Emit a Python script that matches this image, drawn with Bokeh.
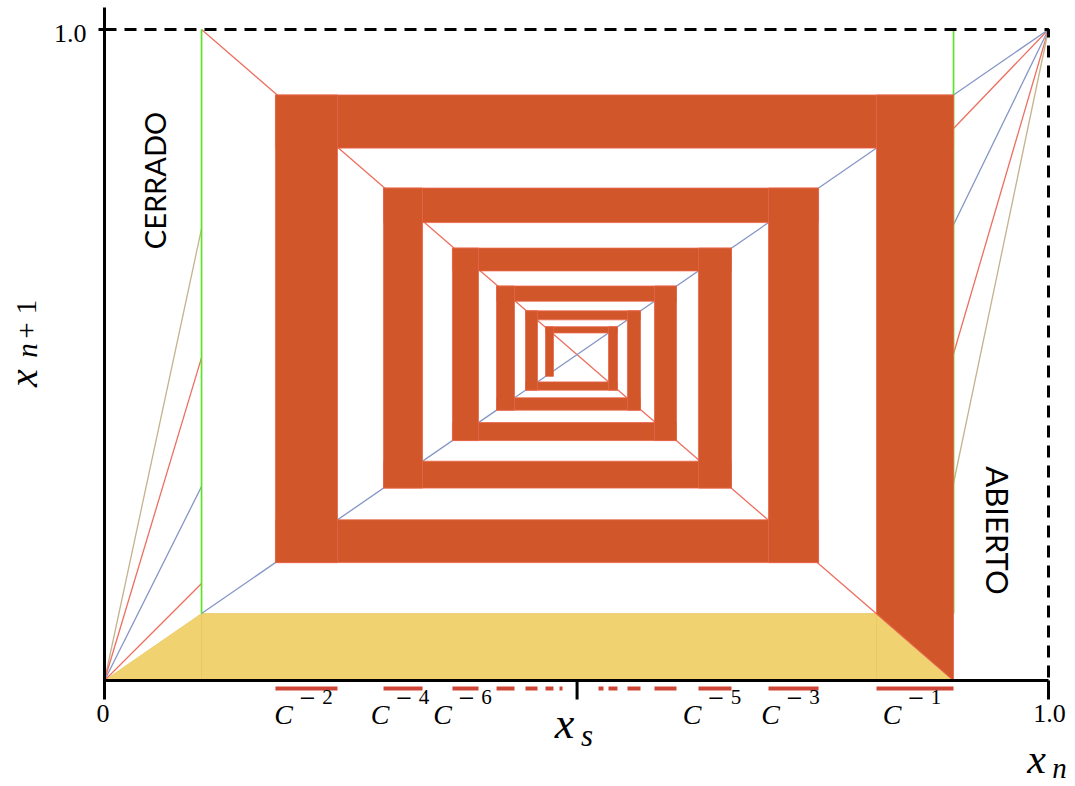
import math
from bokeh.plotting import figure
from bokeh.models import Range1d, ColumnDataSource
from bokeh.core.properties import value
from bokeh.embed import file_html
from bokeh.resources import INLINE

# ---------------- data ----------------
preimage_k = [1, 2, 3, 4, 5, 6, 7, 8, 9, 10, 11, 12, 13, 14]
preimage_left = [0.8178, 0.1811, 0.7034, 0.2956, 0.6292, 0.3686, 0.5826,
                 0.4153, 0.5540, 0.4460, 0.5339, 0.4672, 0.5233, 0.4820]
preimage_right = [0.8994, 0.2468, 0.7564, 0.3369, 0.6642, 0.3962, 0.6059,
                  0.4343, 0.5678, 0.4587, 0.5434, 0.4756, 0.5286, 0.4852]
labelled_k = [1, 2, 3, 4, 5, 6]
cobweb_columns = 12
gap_point = 0.1028          # x of the left (green) line
x_s = 0.5006                # fixed point between the two branches
left_branch_heights = [0.694, 0.496, 0.298, 0.149]
right_branch_heights = [0.848, 0.700, 0.502, 0.303]
x_tick_values = [0.0, 1.0]
x_tick_labels = ["0", "1.0"]
y_tick_values = [1.0]
y_tick_labels = ["1.0"]

# ---------------- styles ----------------
RED = "#ec6f60"
BLUE = "#8596c6"
TAN = "#c5b28e"
GREEN = "#5ee228"
ORANGE = "#d15629"
ORANGE_EDGE = "#e8654a"
YELLOW = "#f0d370"
YELLOW_EDGE = "#e9c45c"
DASH_RED = "#cf4535"
left_branch_colors = [TAN, RED, BLUE, RED]
right_branch_colors = [RED, BLUE, RED, TAN]

W, H = 1075, 786
PX_PER_X = 944.0   # screen pixels per unit of x_n
PX_PER_Y = 651.0   # screen pixels per unit of x_{n+1}
ORIGIN = (104, 680)
X_RANGE = (-ORIGIN[0] / PX_PER_X, (W - ORIGIN[0]) / PX_PER_X)
Y_RANGE = (-(H - ORIGIN[1]) / PX_PER_Y, ORIGIN[1] / PX_PER_Y)


def dx(n):
    return n / PX_PER_X


def dy(n):
    return n / PX_PER_Y


SERIF = value("Liberation Serif")
TXT = dict(text_align="center", text_baseline="middle", text_color="black")

p = figure(width=W, height=H, x_range=Range1d(*X_RANGE), y_range=Range1d(*Y_RANGE),
           output_backend="svg", toolbar_location=None, x_axis_type=None, y_axis_type=None,
           min_border=0, outline_line_color=None)
p.grid.visible = False
p.background_fill_color = "white"
p.border_fill_color = "white"

a = preimage_left
b = preimage_right
c = gap_point
b1 = b[0]

# ---- yellow region ----
p.patches(xs=[[0, c, c], [c, c, a[0], a[0]], [a[0], a[0], b1]],
          ys=[[0, c, 0], [0, c, c, 0], [c, 0, 0]],
          fill_color=YELLOW, line_color=YELLOW_EDGE, line_width=1, line_alpha=0.7)

# ---- branch fans ----
p.segment(x0=[0] * len(left_branch_heights), y0=[0] * len(left_branch_heights),
          x1=[c] * len(left_branch_heights), y1=left_branch_heights,
          line_color=left_branch_colors, line_width=1.3)
p.segment(x0=[b1] * len(right_branch_heights), y0=right_branch_heights,
          x1=[1] * len(right_branch_heights), y1=[1] * len(right_branch_heights),
          line_color=right_branch_colors, line_width=1.3)
# decreasing graph and diagonal
p.line([c, b1], [1, 0], line_color=RED, line_width=1.3)
p.line([c, 1], [c, 1], line_color=BLUE, line_width=1.3)
# green discontinuity lines
p.segment(x0=[c, b1], y0=[1, 1], x1=[c, b1], y1=[c, c], line_color=GREEN, line_width=1.7)

# ---- cobweb bands (horizontal) ----
band = dict(left=[], right=[], bottom=[], top=[])
for k in range(cobweb_columns - 1):
    band["left"].append(min(a[k], a[k + 1]))
    band["right"].append(max(b[k], b[k + 1]))
    band["bottom"].append(a[k])
    band["top"].append(b[k])
p.quad(source=ColumnDataSource(band), left="left", right="right", bottom="bottom", top="top",
       fill_color=ORANGE, line_color=ORANGE_EDGE, line_width=1, line_alpha=0.8)

# ---- cobweb columns (vertical) ----
col = dict(left=[], right=[], bottom=[], top=[])
for k in range(1, cobweb_columns):
    col["left"].append(a[k])
    col["right"].append(b[k])
    col["bottom"].append(min(a[k - 1], a[k]))
    col["top"].append(max(b[k - 1], b[k]))
p.quad(source=ColumnDataSource(col), left="left", right="right", bottom="bottom", top="top",
       fill_color=ORANGE, line_color=ORANGE_EDGE, line_width=1, line_alpha=0.8)
p.patch([a[0], a[0], b1, b1], [c, b1, b1, 0], fill_color=ORANGE,
        line_color=ORANGE_EDGE, line_width=1, line_alpha=0.8)

# ---- preimage intervals under the axis ----
dash_y = -dy(8)
p.segment(x0=a, y0=[dash_y] * len(a), x1=b, y1=[dash_y] * len(b),
          line_color=DASH_RED, line_width=4, line_cap="butt")

# ---- axes ----
p.line([0, 0], [-dy(19), 1 + dy(22)], line_color="black", line_width=3)
p.line([0, 1], [0, 0], line_color="black", line_width=3)
p.segment(x0=[1, x_s], y0=[0, 0], x1=[1, x_s], y1=[-dy(19), -dy(19)],
          line_color="black", line_width=3, line_cap="butt")
p.segment(x0=[-dx(6)] * len(y_tick_values), y0=y_tick_values, x1=[0] * len(y_tick_values),
          y1=y_tick_values, line_color="black", line_width=3, line_cap="butt")
p.line([0, 1, 1], [1, 1, 0], line_color="black", line_width=3, line_dash="12 8")

# tick labels
p.text(x=[v + dx(-1.5 if v == 0 else 1) for v in x_tick_values], y=[-dy(33)] * len(x_tick_values),
       text=x_tick_labels, text_font=SERIF, text_font_size="26px", **TXT)
p.text(x=[-dx(18)] * len(y_tick_values), y=[v - dy(4) for v in y_tick_values],
       text=y_tick_labels, text_font=SERIF, text_font_size="26px",
       text_align="right", text_baseline="middle", text_color="black")

# ---- C^{-k} labels ----
mids = [(a[k - 1] + b[k - 1]) / 2 for k in labelled_k]
p.text(x=[m - dx(23) for m in mids], y=[-dy(33.5)] * len(mids), text=["C"] * len(mids),
       text_font=SERIF, text_font_style="italic", text_font_size="28px", **TXT)
p.text(x=[m + dx(1) for m in mids], y=[-dy(17)] * len(mids), text=["\u2212"] * len(mids),
       text_font=value("DejaVu Serif"), text_font_size="21px", **TXT)
p.text(x=[m + dx(21) for m in mids], y=[-dy(16)] * len(mids), text=[str(k) for k in labelled_k],
       text_font=SERIF, text_font_size="21px", **TXT)

# ---- axis names ----
# x_s
p.text(x=[x_s - dx(12.6)], y=[-dy(43)], text=["x"], text_font=SERIF, text_font_style="italic",
       text_font_size="44px", **TXT)
p.text(x=[x_s + dx(10)], y=[-dy(54.5)], text=["s"], text_font=SERIF, text_font_style="italic",
       text_font_size="31px", **TXT)
# x_n (kept just inside the bottom edge)
p.text(x=[1 - dx(12)], y=[-dy(78)], text=["x"], text_font=SERIF, text_font_style="italic",
       text_font_size="42px", **TXT)
p.text(x=[1 + dx(11)], y=[-dy(87)], text=["n"], text_font=SERIF, text_font_style="italic",
       text_font_size="29px", **TXT)
# x_{n+1} (rotated, reading upwards; kept just inside the left edge)
p.text(x=[-dx(81)], y=[dy(302.5)], text=["x"], angle=math.pi / 2, text_font=SERIF,
       text_font_style="italic", text_font_size="40px", **TXT)
p.text(x=[-dx(78)], y=[dy(330)], text=["n"], angle=math.pi / 2, text_font=SERIF,
       text_font_style="italic", text_font_size="29px", **TXT)
p.text(x=[-dx(78)] * 2, y=[dy(350), dy(373.5)], text=["+", "1"], angle=math.pi / 2, text_font=SERIF,
       text_font_size="29px", **TXT)

# ---- region names ----
p.text(x=[dx(49.5)], y=[dy(500)], text=["CERRADO"], angle=math.pi / 2, text_font=value("Lato"),
       text_font_size="29px", **TXT)
p.text(x=[1 - dx(50.5)], y=[dy(150)], text=["ABIERTO"], angle=-math.pi / 2, text_font=value("Lato"),
       text_font_size="31px", **TXT)

open("out.html", "w").write(file_html(p, INLINE))
